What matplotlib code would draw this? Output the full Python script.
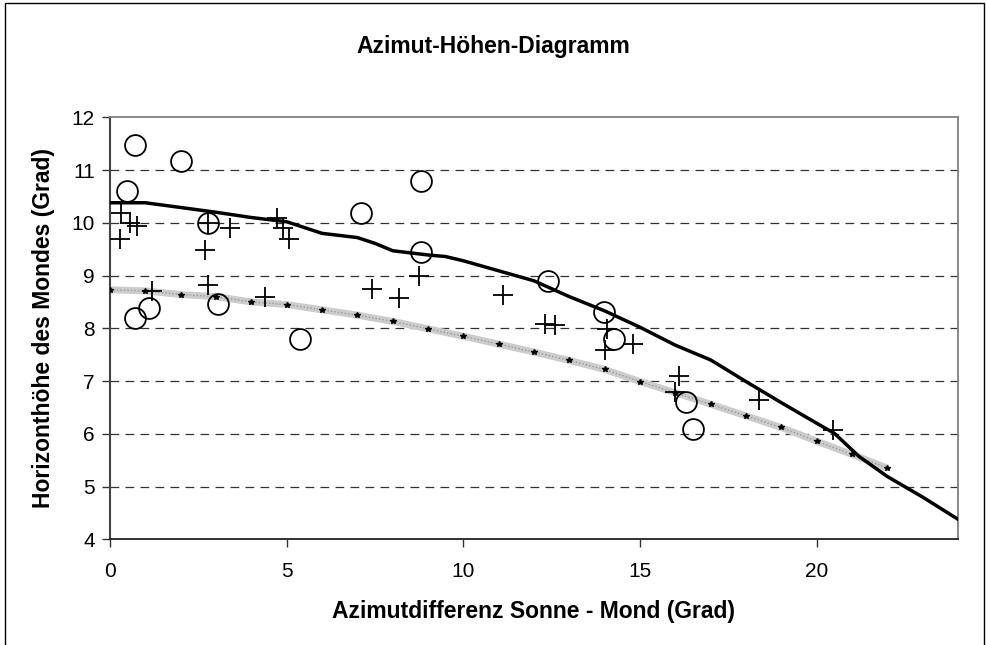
import matplotlib
matplotlib.use("Agg")
import matplotlib.pyplot as plt
from matplotlib.patches import Rectangle

plt.rcParams['font.family'] = ['Liberation Sans', 'DejaVu Sans']

title = "Azimut-Höhen-Diagramm"
xlabel = "Azimutdifferenz Sonne - Mond (Grad)"
ylabel = "Horizonthöhe des Mondes (Grad)"

# smooth black curve
curve_x = [0, 1, 2, 3, 4, 5, 6, 7, 7.5, 8, 9, 9.5, 10, 11, 12, 13, 14, 15, 16, 17,
           18, 19, 20, 20.5, 21.2, 22, 23, 24]
curve_y = [10.38, 10.38, 10.29, 10.2, 10.1, 10.02, 9.8, 9.72, 9.61, 9.47, 9.39, 9.36,
           9.28, 9.09, 8.9, 8.6, 8.33, 8.02, 7.68, 7.4, 6.99, 6.59, 6.2, 6.01, 5.57,
           5.19, 4.8, 4.38]

# gray model band with small markers
model_x = list(range(0, 23))
model_y = [8.73, 8.71, 8.64, 8.6, 8.5, 8.45, 8.35, 8.25, 8.13, 7.99, 7.85, 7.70,
           7.55, 7.39, 7.22, 6.99, 6.78, 6.56, 6.34, 6.12, 5.86, 5.61, 5.35]

# open circles
circ_x = [0.47, 0.71, 0.71, 1.09, 2.0, 2.78, 3.07, 5.38, 7.1, 8.79, 8.79, 12.41,
          13.99, 14.27, 16.3, 16.49]
circ_y = [10.61, 11.47, 8.19, 8.38, 11.18, 9.99, 8.47, 7.8, 10.19, 10.8, 9.44, 8.9,
          8.3, 7.8, 6.61, 6.09]

# plus markers
plus_x = [0.31, 0.57, 0.75, 0.28, 1.18, 2.69, 2.78, 2.78, 3.4, 4.39, 4.72, 4.91,
          5.08, 7.41, 8.18, 8.75, 11.11, 12.31, 12.6, 14.06, 14.01, 14.81, 16.11,
          15.99, 18.37, 20.47]
plus_y = [10.19, 9.99, 9.94, 9.69, 8.71, 9.48, 9.99, 8.82, 9.91, 8.6, 10.09, 9.9,
          9.69, 8.74, 8.58, 8.99, 8.63, 8.08, 8.06, 7.99, 7.59, 7.7, 7.1, 6.8, 6.64,
          6.07]

xticks = [0, 5, 10, 15, 20]
yticks = [4, 5, 6, 7, 8, 9, 10, 11, 12]

fig = plt.figure(figsize=(9.87, 6.45), dpi=100)
fig.patch.set_facecolor('white')
ax = fig.add_axes([110/987, 1-539.3/645, (958-110)/987, (539.3-117.3)/645])

# outer frame
fig.add_artist(Rectangle((5/987, -0.02), (984-5)/987, 1.0 - 3/645 + 0.02,
                         transform=fig.transFigure, fill=False,
                         edgecolor='black', linewidth=1.0))

for y in [5, 6, 7, 8, 9, 10, 11]:
    ax.axhline(y, color='#333333', linewidth=0.9, dashes=(7, 5), zorder=1)

ax.plot(model_x, model_y, color='#cccccc', linewidth=5, solid_capstyle='butt', zorder=2)
ax.plot(model_x, model_y, color='#999999', linewidth=1.0, linestyle=(0, (1, 1.5)), zorder=2)
ax.plot(model_x, model_y, linestyle='none', marker='*', color='black', markersize=4, zorder=3)

ax.plot(curve_x, curve_y, color='black', linewidth=2.5, zorder=4)

ax.plot(circ_x, circ_y, linestyle='none', marker='o', markersize=15,
        markerfacecolor='none', markeredgecolor='black', markeredgewidth=1.3, zorder=5)
ax.plot(plus_x, plus_y, linestyle='none', marker='+', markersize=15,
        color='black', markeredgewidth=1.3, zorder=5)

ax.set_xlim(0, 24)
ax.set_ylim(4, 12)
ax.set_xticks(xticks)
ax.set_yticks(yticks)
ax.tick_params(axis='both', direction='out', length=6, width=1, labelsize=15,
               color='#333333')
ax.tick_params(axis='x', pad=10)
ax.tick_params(axis='y', pad=5)

for s in ['top', 'right']:
    ax.spines[s].set_color('#808080')
    ax.spines[s].set_linewidth(1.3)
ax.spines['left'].set_color('#444444')
ax.spines['left'].set_linewidth(1.5)
ax.spines['bottom'].set_color('#222222')
ax.spines['bottom'].set_linewidth(1.3)

ax.set_xlabel(xlabel, fontsize=16.5, fontweight='bold', labelpad=14)
ax.set_ylabel(ylabel, fontsize=16.5, fontweight='bold', labelpad=12)
fig.text(0.5, 1 - 47/645, title, ha='center', va='center', fontsize=16.5, fontweight='bold')

fig.savefig('out.png', dpi=100, facecolor='white')
